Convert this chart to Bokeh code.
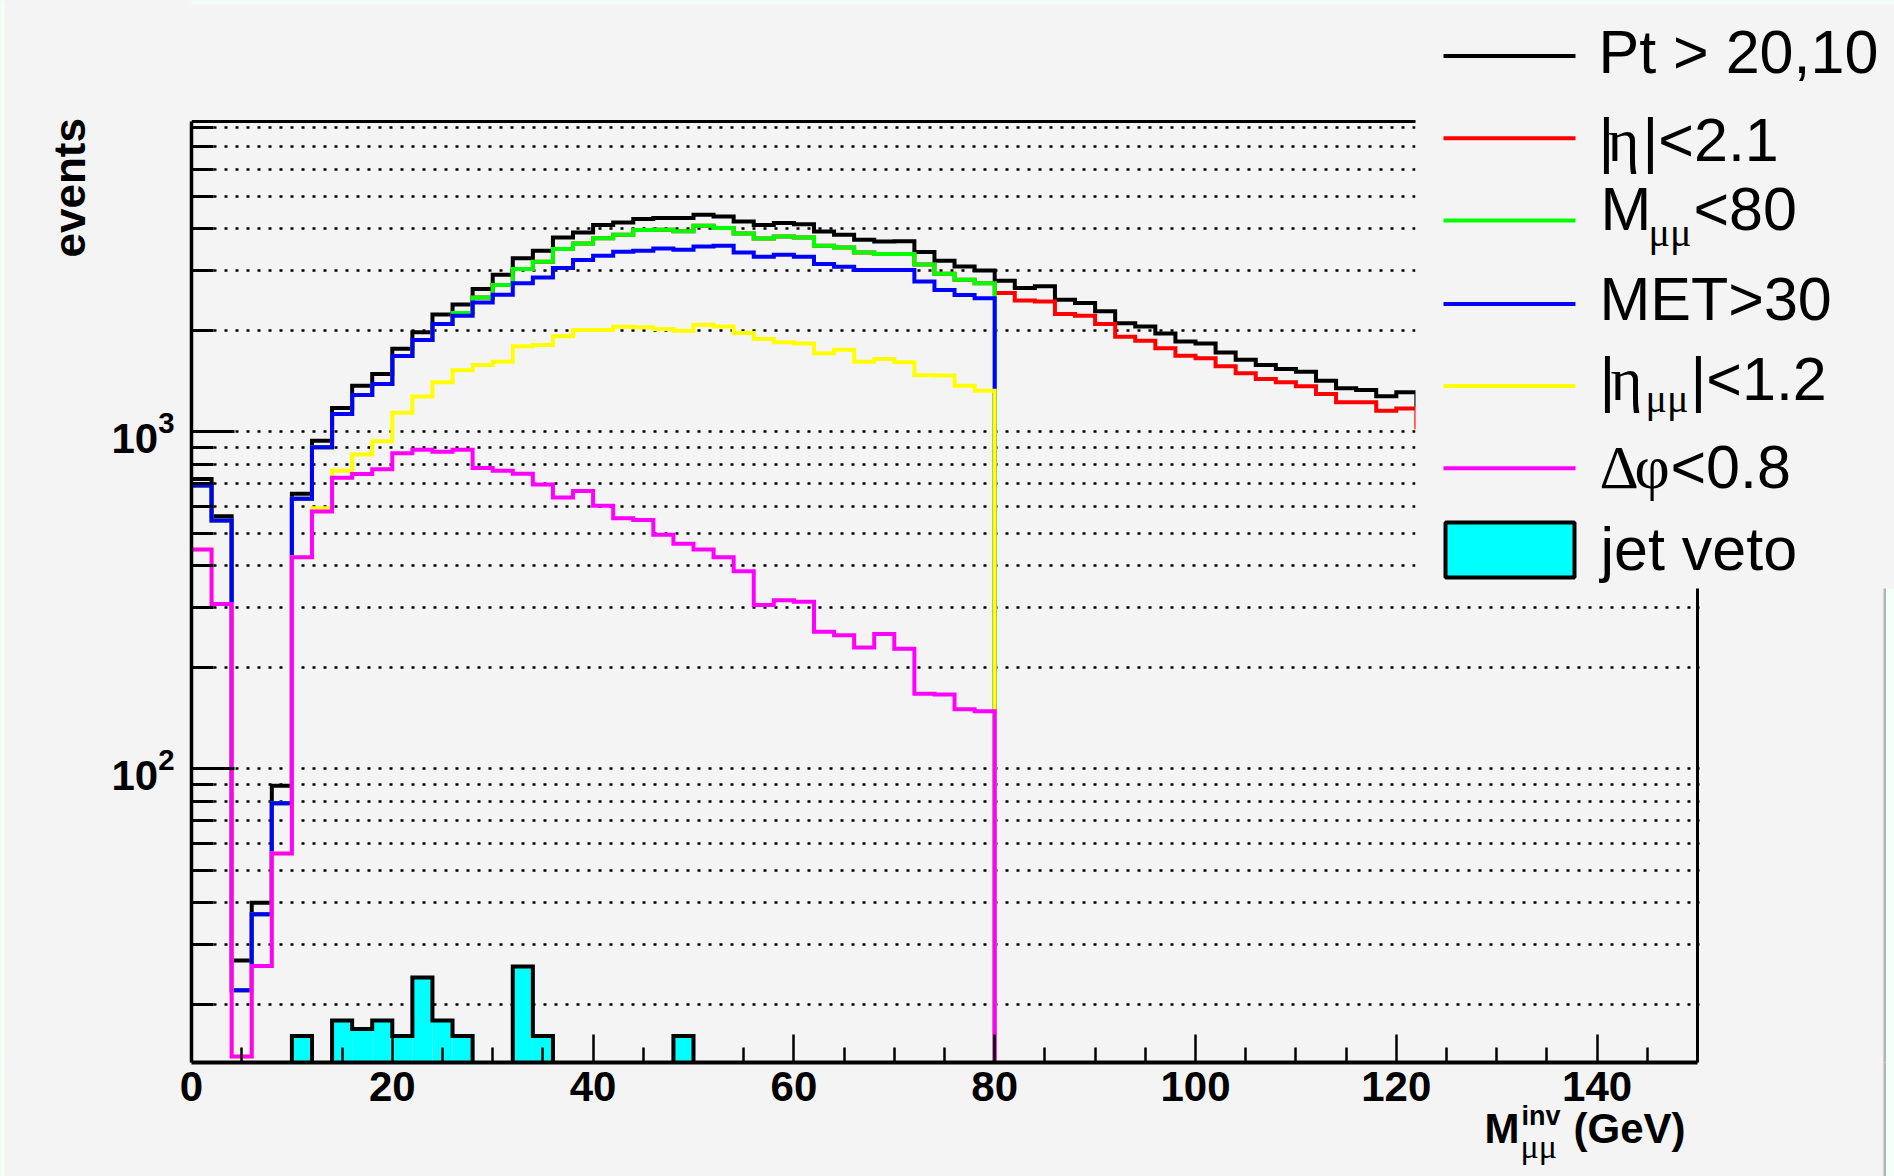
import math
from bokeh.plotting import figure
from bokeh.layouts import column, row
from bokeh.models import (Range1d, FixedTicker, Label, BoxAnnotation)
from bokeh.embed import file_html
from bokeh.resources import INLINE

# ---------------- data (events per 2 GeV bin, 0..124 GeV) ----------------
bin_edges = list(range(0, 126, 2))

pt_cut = [724, 561, 27, 40, 89, 654, 940, 1175, 1369, 1483,
          1762, 1970, 2225, 2385, 2649, 2921, 3266, 3441, 3767, 3898,
          4100, 4174, 4270, 4300, 4300, 4400, 4345, 4203, 4100, 4155,
          4125, 3925, 3837, 3709, 3664, 3670, 3410, 3213, 3090, 3008,
          2803, 2667, 2698, 2462, 2407, 2274, 2095, 2051, 1956, 1852,
          1827, 1718, 1635, 1576, 1534, 1506, 1416, 1344, 1329, 1273, 1308, 1180]

eta_cut = [692, 545, 22, 37, 79, 632, 899, 1128, 1285, 1384,
           1675, 1870, 2085, 2247, 2500, 2723, 3036, 3192, 3479, 3617,
           3750, 3837, 3963, 3972, 3931, 4080, 4017, 3873, 3741, 3793,
           3767, 3559, 3518, 3401, 3363, 3363, 3130, 2940, 2822, 2753,
           2578, 2450, 2434, 2233, 2208, 2085, 1912, 1861, 1766, 1680,
           1650, 1562, 1489, 1433, 1400, 1363, 1293, 1222, 1222, 1154, 1172, 1030]

mass_cut = [692, 545, 22, 37, 79, 632, 899, 1128, 1285, 1384,
            1675, 1870, 2085, 2247, 2500, 2723, 3036, 3192, 3479, 3617,
            3750, 3837, 3963, 3972, 3931, 4080, 4017, 3873, 3741, 3793,
            3767, 3559, 3518, 3401, 3363, 3363, 3130, 2940, 2822, 2753,
            0, 0, 0, 0, 0, 0, 0, 0, 0, 0,
            0, 0, 0, 0, 0, 0, 0, 0, 0, 0, 0, 0]

met_cut = [692, 545, 22, 37, 79, 632, 899, 1128, 1285, 1384,
           1675, 1870, 2085, 2208, 2414, 2545, 2753, 2867, 3057, 3228,
           3325, 3417, 3441, 3496, 3464, 3543, 3559, 3401, 3302, 3348,
           3302, 3141, 3083, 3015, 3015, 3018, 2788, 2630, 2541, 2489,
           0, 0, 0, 0, 0, 0, 0, 0, 0, 0,
           0, 0, 0, 0, 0, 0, 0, 0, 0, 0, 0, 0]

eta_mumu_cut = [447, 308, 14, 26, 56, 424, 592, 765, 856, 937,
                1137, 1272, 1400, 1522, 1575, 1613, 1791, 1807, 1917, 2002,
                2002, 2048, 2040, 2016, 1993, 2075, 2051, 1961, 1883, 1840,
                1827, 1707, 1750, 1613, 1642, 1605, 1470, 1466, 1369, 1323,
                0, 0, 0, 0, 0, 0, 0, 0, 0, 0,
                0, 0, 0, 0, 0, 0, 0, 0, 0, 0, 0, 0]

dphi_cut = [447, 308, 14, 26, 56, 424, 579, 730, 749, 773,
            862, 884, 872, 884, 780, 766, 750, 697, 638, 667,
            603, 553, 547, 494, 465, 447, 424, 385, 306, 316,
            313, 255, 249, 229, 251, 227, 167, 166, 150, 148,
            0, 0, 0, 0, 0, 0, 0, 0, 0, 0,
            0, 0, 0, 0, 0, 0, 0, 0, 0, 0, 0, 0]

jet_veto = [0, 0, 0, 0, 0, 16.1, 0, 17.9, 16.9, 17.9,
            16.1, 24.0, 17.9, 16.1, 0, 0, 25.9, 16.1, 0, 0,
            0, 0, 0, 0, 16.1, 0, 0, 0, 0, 0,
            0, 0, 0, 0, 0, 0, 0, 0, 0, 0,
            0, 0, 0, 0, 0, 0, 0, 0, 0, 0,
            0, 0, 0, 0, 0, 0, 0, 0, 0, 0, 0, 0]

x_major_ticks = [0, 20, 40, 60, 80, 100, 120, 140]
x_minor_ticks = [5, 10, 15, 25, 30, 35, 45, 50, 55, 65, 70, 75, 85, 90, 95,
                 105, 110, 115, 125, 130, 135, 145, 150]
y_major_ticks = [100, 1000]
y_minor_ticks = [20, 30, 40, 50, 60, 70, 80, 90,
                 200, 300, 400, 500, 600, 700, 800, 900,
                 2000, 3000, 4000, 5000, 6000, 7000, 8000]

x_lo, x_hi = 0, 150          # axis frame range
y_lo, y_hi = 13.44, 8318     # axis frame range (log)

BG = "#f4f4f4"
EDGE = "#f5fffa"
EDGE_LINE = "#b4b4b4"
SANS = "Liberation Sans"
SERIF = "Liberation Serif"

# ---------------- page geometry (px) ----------------
PAGE_W, PAGE_H = 1894, 1176
CW = 100                      # left strip holding the y title
FL, FT, FR, FB = 191, 121, 1697, 1062   # ROOT frame on the page
A_BOTTOM = 58                 # space for the x tick labels
A_H = FB + A_BOTTOM
OV = A_BOTTOM                 # transparent bottom strip overlaps the tick-label band
B_TOP = A_H - OV
B_H = PAGE_H - B_TOP
K_BASE = 0.346                # label baseline correction (fraction of font size)
CANVAS_R = 1883               # right border of the ROOT canvas
LEG_L, LEG_B = 1415, 588      # legend box (left edge, bottom edge) on the page

px_per_x = (FR - FL) / (x_hi - x_lo)
x_ext = x_hi + (PAGE_W - FR) / px_per_x
dec_per_px = (math.log10(y_hi) - math.log10(y_lo)) / (FB - FT)
y_ext = 10 ** (math.log10(y_hi) + FT * dec_per_px)

p = figure(width=PAGE_W - CW, height=A_H,
           min_border_left=FL - CW, min_border_top=0, min_border_right=0,
           min_border_bottom=A_BOTTOM,
           x_range=Range1d(x_lo, x_ext), y_range=Range1d(y_lo, y_ext),
           y_axis_type="log", output_backend="svg", toolbar_location=None,
           background_fill_color=BG, border_fill_color=BG, outline_line_color=None)

floor = y_lo * 0.9


def step_xy(vals):
    xs, ys = [], []
    for i, v in enumerate(vals):
        y = v if v > 0 else floor
        xs += [bin_edges[i], bin_edges[i + 1]]
        ys += [y, y]
    return xs, ys


series = [
    (pt_cut, "#000000"),
    (eta_cut, "#ff0000"),
    (mass_cut, "#00ff00"),
    (met_cut, "#0000ff"),
    (eta_mumu_cut, "#ffff00"),
    (dphi_cut, "#ff00ff"),
]
for vals, col in series:
    xs, ys = step_xy(vals)
    p.line(xs, ys, line_color=col, line_width=4, line_join="miter")

ql, qr, qt = [], [], []
for i, v in enumerate(jet_veto):
    if v > 0:
        ql.append(bin_edges[i]); qr.append(bin_edges[i + 1]); qt.append(v)
p.quad(left=ql, right=qr, top=qt, bottom=[floor] * len(qt), fill_color="#00ffff",
       line_color=None)
xs, ys = step_xy(jet_veto)
p.line(xs, ys, line_color="#000000", line_width=4, line_join="miter")

# top and right frame lines of the histogram pad
p.segment(x0=[x_lo, x_hi], y0=[y_hi, y_lo], x1=[x_hi, x_hi], y1=[y_hi, y_hi],
          line_color="black", line_width=3)

# ---------------- axes ----------------
xa = p.xaxis[0]
xa.ticker = FixedTicker(ticks=x_major_ticks, minor_ticks=x_minor_ticks)
xa.bounds = (x_lo, x_hi)
xa.major_tick_in = 28; xa.major_tick_out = 0
xa.minor_tick_in = 15; xa.minor_tick_out = 0
xa.major_tick_line_width = 2.5; xa.minor_tick_line_width = 2.5
xa.axis_line_width = 4
xa.major_label_text_font = SANS
xa.major_label_text_font_size = "42px"
xa.major_label_text_font_style = "bold"
xa.major_label_text_color = "black"
xa.major_label_standoff = 9

ya = p.yaxis[0]
ya.ticker = FixedTicker(ticks=y_major_ticks, minor_ticks=y_minor_ticks)
ya.bounds = (y_lo, y_hi)
ya.major_tick_in = 43; ya.major_tick_out = 0
ya.minor_tick_in = 22; ya.minor_tick_out = 0
ya.major_tick_line_width = 3; ya.minor_tick_line_width = 3
ya.axis_line_width = 3.5
ya.major_label_text_font = SANS
ya.major_label_text_font_size = "42px"
ya.major_label_text_font_style = "bold"
ya.major_label_text_color = "black"
ya.major_label_standoff = 17

p.xgrid.visible = False
p.ygrid.grid_line_color = "black"
p.ygrid.grid_line_dash = "3 8"
p.ygrid.grid_line_width = 2.5
p.ygrid.minor_grid_line_color = "black"
p.ygrid.minor_grid_line_dash = "3 8"
p.ygrid.minor_grid_line_width = 2.5


def box(fig, l, r, b, t, **kw):
    kw.setdefault("fill_alpha", 1.0)
    kw.setdefault("line_color", None)
    fig.add_layout(BoxAnnotation(left=l, right=r, bottom=b, top=t,
                                 left_units="screen", right_units="screen",
                                 bottom_units="screen", top_units="screen", **kw))


def lab(fig, text, sx, sy, font=SANS, size=42, style="normal", angle=0.0, corr=True):
    if corr:
        sy = sy + K_BASE * size
    fig.add_layout(Label(x=sx, y=sy, x_units="screen", y_units="screen",
                         text=text, text_font=font, text_font_size=f"{size}px",
                         text_font_style=style, text_baseline="alphabetic",
                         text_align="left", angle=angle, text_color="black"))


def pbox(l, r, t, b, **kw):        # page rectangle -> main frame screen coords
    box(p, l - FL, r - FL, FB - b, FB - t, **kw)


def plab(text, px, py, **kw):      # page coords -> main frame screen coords
    lab(p, text, px - FL, FB - py, **kw)


# blank area right of the pad, legend background, canvas edges
pbox(FR + 2, PAGE_W + 5, LEG_B, FB + 5, fill_color=BG)
pbox(LEG_L, PAGE_W + 5, 4, LEG_B, fill_color=BG)
pbox(CANVAS_R, CANVAS_R + 2.5, LEG_B, FB + 5, fill_color=EDGE_LINE)
pbox(CANVAS_R + 2.5, PAGE_W + 5, LEG_B, FB + 5, fill_color=EDGE)
pbox(FL - 5, PAGE_W + 5, -5, 4, fill_color=EDGE)

leg_lines = [(55.5, "#000000"), (137.8, "#ff0000"), (220, "#00ff00"),
             (303.5, "#0000ff"), (385.4, "#ffff00"), (467.7, "#ff00ff")]
for yy, col in leg_lines:
    pbox(1443, 1575, yy - 2, yy + 2, fill_color=col)
pbox(1445, 1574, 522, 577, fill_color="#00ffff", line_color="black",
     line_width=4, line_alpha=1.0)

LS = 61
plab("Pt > 20,10", 1598, 73, size=LS)
plab("|", 1598, 161, size=LS)
plab("\u03b7", 1607, 161, font=SERIF, size=LS)
plab("|<2.1", 1642, 161, size=LS)
plab("M", 1600, 230, size=LS)
plab("\u03bc\u03bc", 1648, 246, font=SERIF, size=40)
plab("<80", 1693, 230, size=LS)
plab("MET>30", 1599, 320, size=LS)
plab("|", 1599, 400, size=LS)
plab("\u03b7", 1610, 400, font=SERIF, size=LS)
plab("\u03bc\u03bc", 1645, 412, font=SERIF, size=40)
plab("|<1.2", 1690, 400, size=LS)
plab("\u0394", 1599, 488, font=SERIF, size=LS)
plab("\u03c6", 1634, 488, font=SERIF, size=LS)
plab("<0.8", 1670, 488, size=LS)
plab("jet veto", 1600, 570, size=LS)

# ---------------- y title strip (left) ----------------
c = figure(width=CW, height=A_H, min_border=0, x_axis_location=None,
           y_axis_location=None, toolbar_location=None, output_backend="svg",
           x_range=Range1d(0, 1), y_range=Range1d(0, 1),
           background_fill_color=BG, border_fill_color=BG, outline_line_color=None,
           styles={"background-color": BG})
c.grid.visible = False
box(c, -5, 4, -5, A_H + 5, fill_color=EDGE)
box(c, -5, CW + 5, A_H - 4, A_H + 5, fill_color=EDGE)
lab(c, "events", 69, A_H - 315, size=44, style="bold", angle=math.pi / 2, corr=False)

# ---------------- x title strip (bottom, transparent, overlapping) ----------------
b = figure(width=PAGE_W, height=B_H, min_border=0, x_axis_location=None,
           y_axis_location=None, toolbar_location=None, output_backend="svg",
           x_range=Range1d(0, 1), y_range=Range1d(0, 1),
           background_fill_alpha=0, border_fill_alpha=0, outline_line_color=None,
           margin=(-OV, 0, 0, 0))
b.grid.visible = False
box(b, -5, 4, -5, B_H + 5, fill_color=EDGE)
box(b, CANVAS_R, CANVAS_R + 2.5, -5, B_H + 5, fill_color=EDGE_LINE)
box(b, CANVAS_R + 2.5, PAGE_W + 5, -5, B_H + 5, fill_color=EDGE)
lab(b, "M", 1484, PAGE_H - 1143, size=42, style="bold")
lab(b, "inv", 1521, PAGE_H - 1125, size=27, style="bold")
lab(b, "\u03bc\u03bc", 1520, PAGE_H - 1158, font=SERIF, size=34)
lab(b, "(GeV)", 1573, PAGE_H - 1143, size=42, style="bold")

layout = column(row(c, p, styles={"background-color": BG}), b,
                styles={"background-color": BG})
open("out.html", "w").write(file_html(layout, INLINE))
